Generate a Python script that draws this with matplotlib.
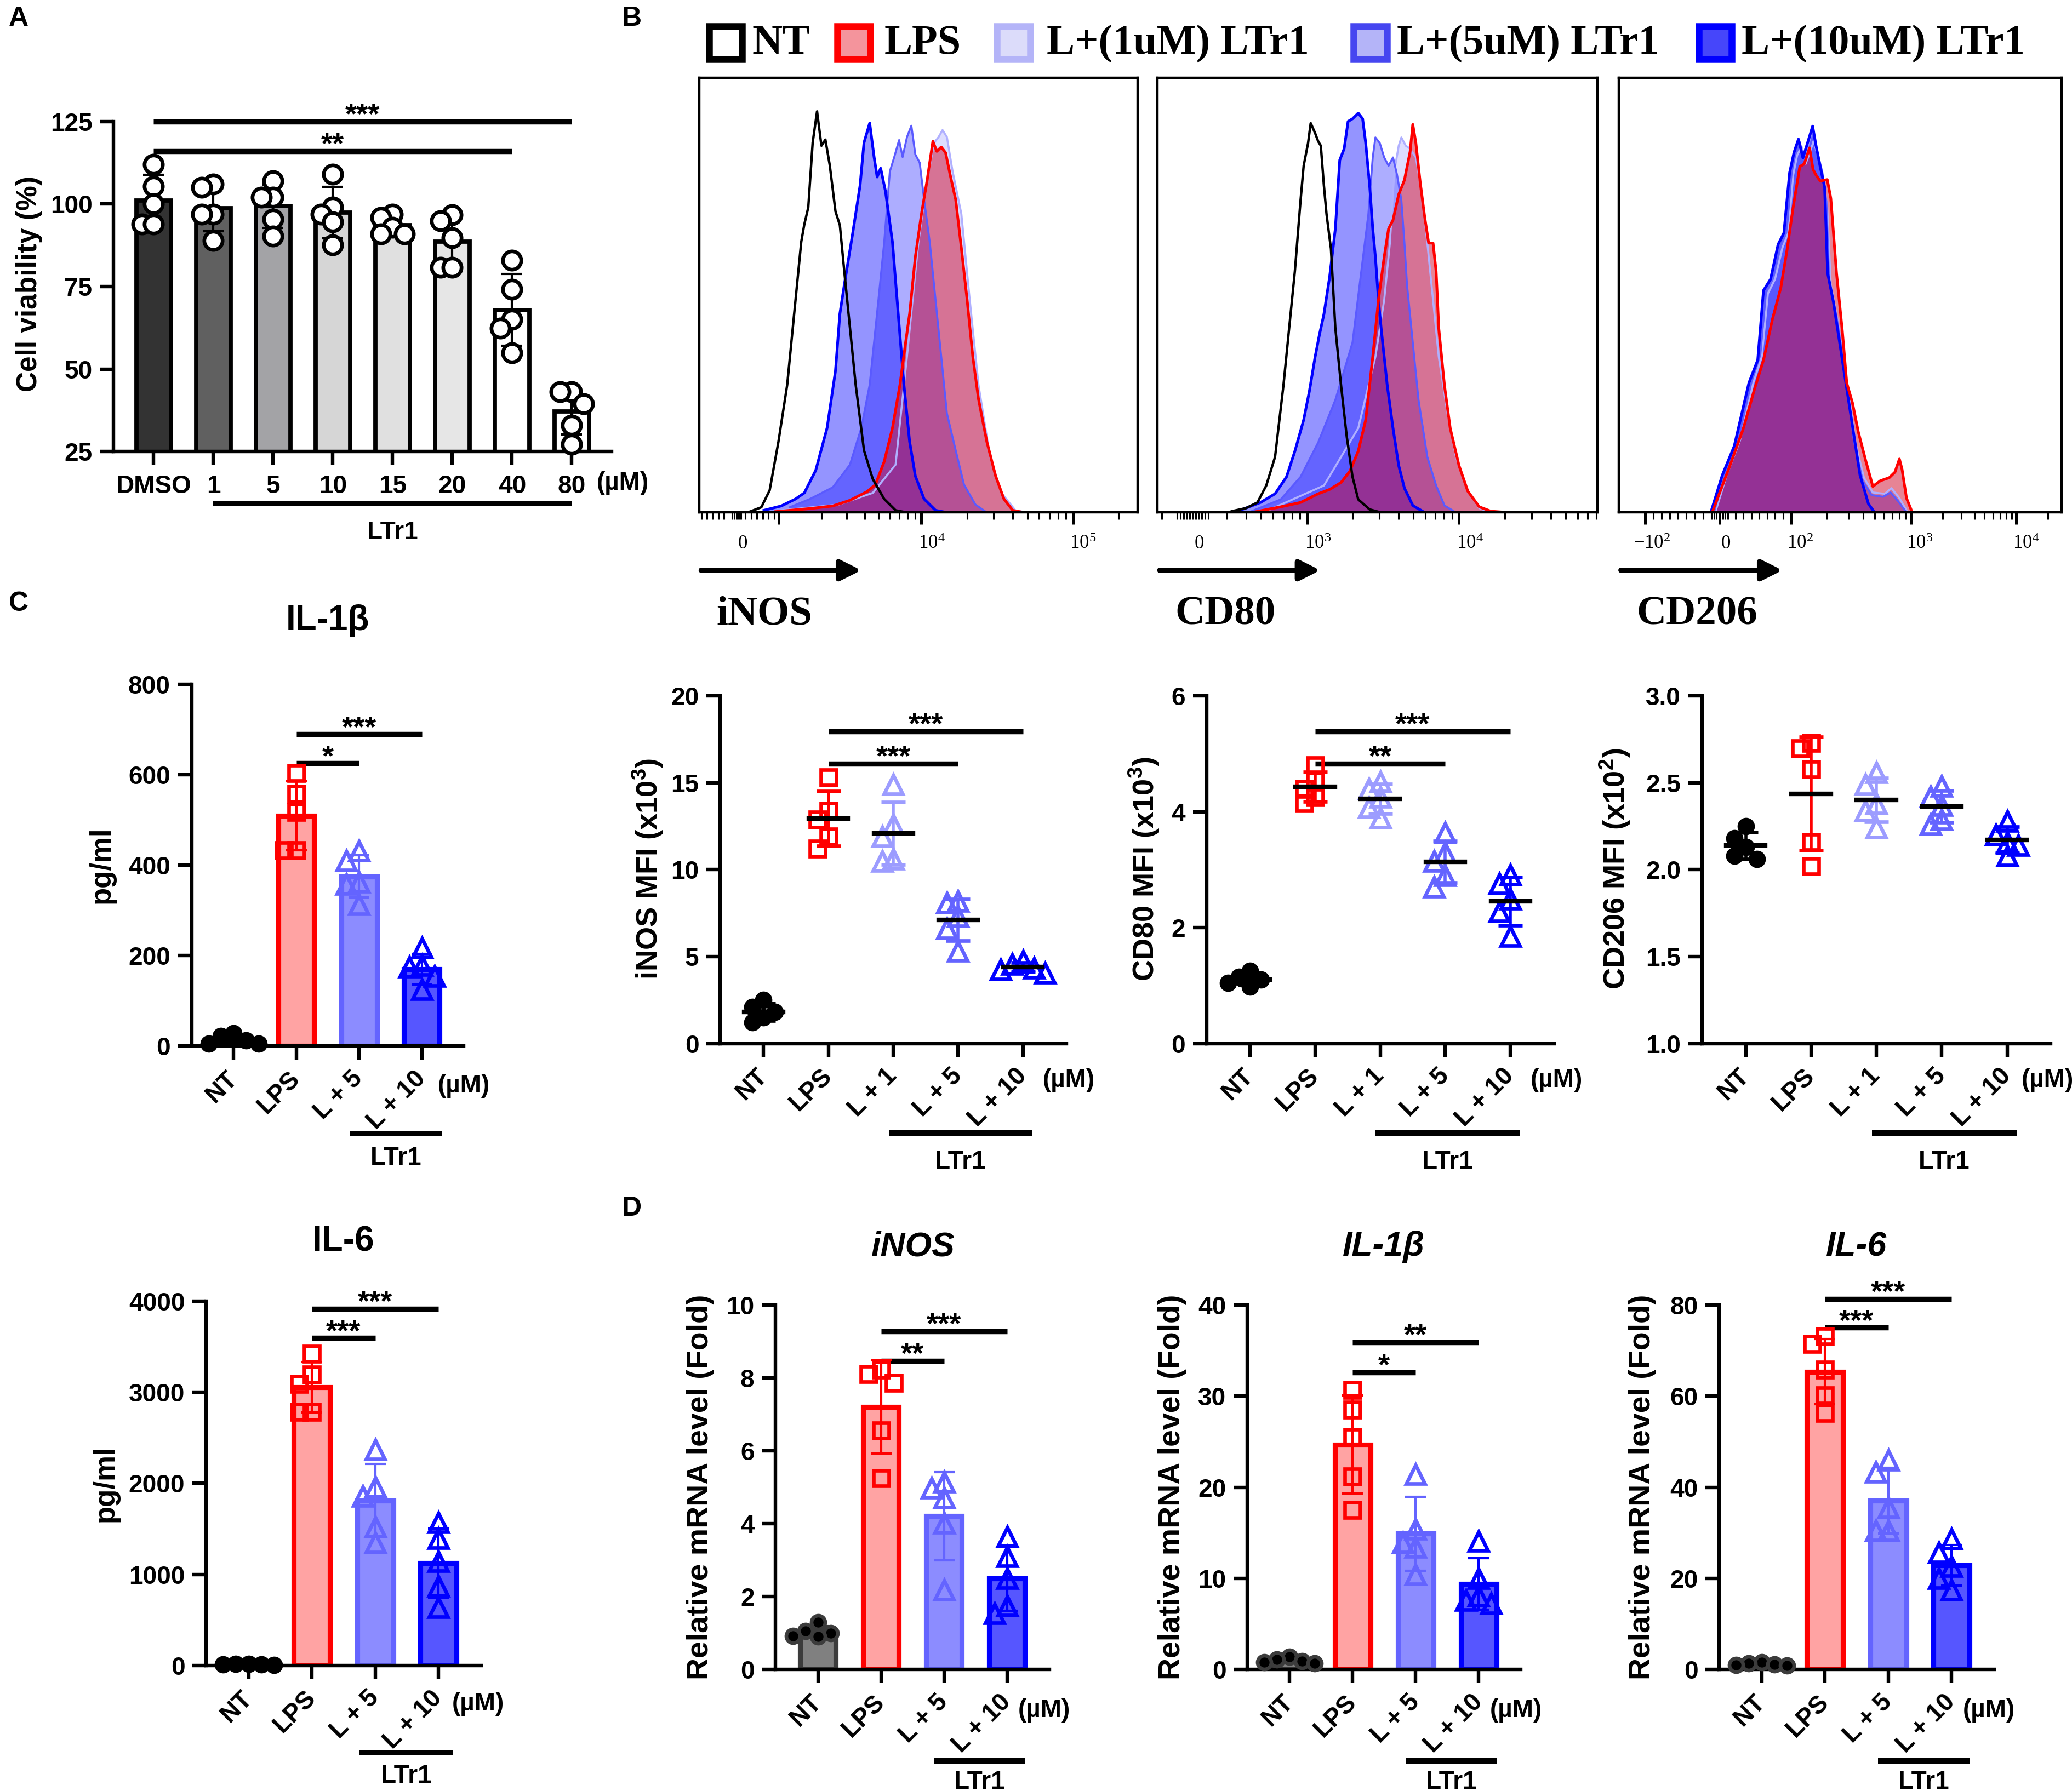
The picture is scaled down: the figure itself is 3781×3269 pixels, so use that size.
import numpy as np
import matplotlib
matplotlib.use('Agg')
import matplotlib.pyplot as plt
from matplotlib.patches import Rectangle
from matplotlib.transforms import blended_transform_factory

plt.rcParams['font.family'] = ['Liberation Sans', 'DejaVu Sans']
plt.rcParams['font.weight'] = 'bold'
plt.rcParams['mathtext.default'] = 'regular'

W, H = 1568.0, 1356.0   # layout units (reference shrunk to 1568 wide)

# ---------------- A: cell viability ----------------
via_labels = ['DMSO', '1', '5', '10', '15', '20', '40', '80']
via_fill = ['#333333', '#606060', '#a3a3a6', '#d6d6d6', '#e0e0e0', '#e6e6e6', '#ffffff', '#ffffff']
via_points = [
    [112, 105.4, 100, 94, 94],
    [106, 105, 97, 97, 89],
    [107, 102, 102, 95.5, 90.3],
    [109, 99, 97, 94.6, 87.6],
    [97, 96, 93, 91, 91],
    [96.8, 95, 89.8, 80.9, 80.9],
    [83, 74.2, 65, 62.4, 55],
    [43.2, 43.2, 39.5, 33, 27.3],
]

# ---------------- C: ELISA ----------------
elisa_groups = ['NT', 'LPS', 'L + 5', 'L + 10']
il1b_pg = [[28, 22, 12, 5, 5], [604, 558, 518, 433, 433],
           [432, 410, 362, 358, 313], [217, 179, 175, 154, 125]]
il6_pg = [[20, 10, 5, 15, 10], [3420, 3193, 3088, 2782, 2782],
          [2370, 1962, 1857, 1521, 1345], [1571, 1395, 1143, 870, 639]]

# ---------------- C: MFI ----------------
mfi_groups = ['NT', 'LPS', 'L + 1', 'L + 5', 'L + 10']
inos_mfi = [[2.5, 2.1, 1.8, 1.5, 1.2], [15.3, 13.4, 12.9, 11.9, 11.2],
            [14.9, 12.6, 11.9, 10.6, 10.5], [8.2, 8.1, 7.3, 6.6, 5.3],
            [4.76, 4.55, 4.35, 4.25, 4.05]]
cd80_mfi = [[1.25, 1.15, 1.1, 1.05, 0.98], [4.8, 4.55, 4.4, 4.25, 4.15],
            [4.52, 4.40, 4.25, 4.07, 3.89], [3.64, 3.3, 3.15, 2.9, 2.7],
            [2.91, 2.76, 2.49, 2.28, 1.85]]
cd206_mfi = [[2.25, 2.18, 2.13, 2.08, 2.06], [2.73, 2.70, 2.58, 2.16, 2.02],
             [2.56, 2.49, 2.38, 2.34, 2.24], [2.48, 2.42, 2.37, 2.29, 2.26],
             [2.28, 2.20, 2.16, 2.14, 2.08]]

# ---------------- D: qPCR ----------------
qpcr_groups = ['NT', 'LPS', 'L + 5', 'L + 10']
inos_fold = [[1.3, 1.05, 1.0, 0.92, 0.9], [8.22, 8.11, 7.87, 6.55, 5.25],
             [5.15, 4.98, 4.71, 4.01, 2.18], [3.64, 3.10, 2.50, 1.75, 1.53]]
il1b_fold = [[1.4, 1.1, 0.9, 0.8, 0.7], [30.7, 28.5, 25.5, 21.2, 17.5],
             [21.4, 15.4, 13.9, 13.4, 10.4], [14.1, 10.0, 8.06, 7.6, 7.2]]
il6_fold = [[1.6, 1.3, 1.1, 1.0, 0.9], [73.1, 71.4, 65.8, 60.2, 56.3],
            [45.9, 43.3, 35.5, 30.4, 30.4], [28.6, 25.6, 22.6, 20.0, 17.4]]

# ---------------- B: flow histograms (x: % of axis width, y: % of box height) ----------------
inos_nt_x = [11.6, 14.2, 16.1, 18.1, 20.1, 21.7, 23.3, 24.0, 24.9, 25.9, 26.9, 27.9, 28.8, 29.8,
             31.1, 32.1, 33.1, 34.4, 35.7, 37.6, 39.6, 42.2, 44.8, 47.4]
inos_nt_y = [0.2, 1.2, 5.1, 16.3, 29.4, 45.9, 62.3, 66.3, 70.2, 85.1, 92.3, 84.4, 85.8, 79.9,
             69.3, 66.1, 55.6, 42.5, 29.4, 14.3, 7.7, 3.1, 0.5, 0]
inos_10_x = [14.8, 18.75, 22.0, 24.0, 26.6, 29.2, 31.1, 32.1, 33.1, 35.0, 36.7, 37.6, 38.9, 39.9,
             40.6, 41.4, 42.5, 44.1, 45.4, 46.7, 48.0, 49.3, 51.3, 53.9, 56.5]
inos_10_y = [0.5, 1.5, 3.1, 4.5, 9.7, 19.5, 32.6, 45.7, 52.3, 64.1, 75.2, 85.1, 89.6, 81.8,
             77.2, 79.2, 73.9, 62.1, 45.7, 29.4, 16.3, 8.4, 3.1, 0.5, 0]
inos_5_x = [20.7, 25.3, 30.5, 34.4, 37.0, 38.9, 40.9, 42.2, 43.5, 44.5, 45.6, 46.4, 47.4, 48.4,
            49.3, 50.3, 51.3, 52.6, 53.9, 55.2, 56.5, 58.5, 60.4, 63.0, 65.6]
inos_5_y = [1.2, 3.1, 5.8, 11.0, 19.5, 29.4, 49.0, 62.1, 78.5, 81.8, 85.7, 81.8, 86.4, 89.0,
            82.4, 80.5, 72.0, 62.1, 49.0, 35.9, 22.8, 14.3, 6.4, 1.8, 0]
inos_1_x = [18.75, 31.8, 39.6, 44.8, 47.4, 50.0, 52.0, 53.6, 54.6, 55.5, 56.5, 57.8, 59.8, 61.7,
            63.7, 66.3, 68.9, 72.1, 74.7]
inos_1_y = [0.5, 1.8, 4.5, 11.0, 35.9, 62.1, 76.5, 85.1, 86.4, 88.0, 86.4, 78.5, 68.7, 49.0,
            29.4, 13.0, 4.5, 0.5, 0]
inos_lps_x = [17.4, 25.3, 30.5, 34.4, 38.3, 40.2, 42.2, 44.1, 45.8, 47.1, 48.0, 49.3, 50.7, 52.0,
              53.3, 54.2, 55.2, 56.2, 57.2, 58.5, 59.8, 61.1, 62.4, 63.7, 65.6, 67.6, 69.5, 71.5, 74.1]
inos_lps_y = [0.2, 0.9, 1.5, 2.8, 4.8, 6.4, 11.7, 19.5, 29.4, 39.2, 45.7, 58.8, 68.7, 76.5,
              85.4, 83.1, 84.1, 82.8, 77.9, 72.0, 60.8, 49.0, 35.9, 26.1, 16.3, 8.4, 3.1, 0.5, 0]

cd80_nt_x = [16.9, 20.1, 22.7, 24.7, 26.7, 28.6, 29.9, 31.2, 32.5, 33.2, 34.2, 34.8, 35.8, 36.5,
             37.1, 37.8, 38.4, 39.4, 40.4, 41.7, 43.0, 44.3, 45.6, 48.2, 50.8]
cd80_nt_y = [0.3, 1.0, 2.3, 6.2, 12.8, 29.2, 42.4, 55.5, 71.9, 79.8, 85.0, 89.6, 87.3, 85.4,
             84.4, 75.2, 68.6, 60.7, 42.4, 29.2, 17.4, 8.2, 3.0, 0.7, 0]
cd80_10_x = [18.2, 23.4, 26.7, 29.3, 31.2, 33.2, 34.5, 35.8, 36.8, 37.8, 39.1, 40.4, 41.4, 42.4,
             43.3, 44.3, 45.6, 46.6, 47.3, 48.2, 48.9, 49.5, 50.2, 50.8, 52.2, 53.5, 54.8, 56.1,
             58.0, 60.7]
cd80_10_y = [0.3, 2.3, 4.3, 8.2, 14.1, 21.3, 27.9, 35.8, 41.0, 45.6, 54.2, 65.3, 81.1, 83.7,
             90.0, 90.6, 91.9, 90.6, 85.0, 75.2, 65.3, 58.8, 48.9, 42.4, 29.2, 19.4, 10.8, 5.6,
             1.6, 0]
cd80_5_x = [21.4, 28.0, 32.5, 36.5, 40.4, 44.3, 46.3, 47.9, 48.9, 49.5, 50.5, 51.5, 52.5, 53.5,
            54.4, 55.4, 56.1, 56.7, 58.0, 59.3, 61.3, 63.3, 65.2, 67.8]
cd80_5_y = [0.3, 3.0, 8.2, 16.1, 25.9, 39.1, 55.5, 68.6, 81.7, 86.3, 85.0, 81.7, 79.8, 81.7,
            77.8, 71.9, 62.0, 52.2, 39.1, 25.9, 12.8, 6.2, 1.6, 0]
cd80_1_x = [24.7, 37.8, 45.6, 49.5, 51.5, 52.8, 53.8, 54.8, 55.4, 56.4, 57.4, 58.7, 60.0, 61.3,
            62.6, 63.9, 65.9, 67.8, 70.5, 73.1, 75.7]
cd80_1_y = [0.3, 6.2, 19.4, 35.8, 48.9, 62.0, 78.5, 84.4, 86.3, 84.4, 83.7, 81.7, 73.9, 62.0,
            48.9, 35.8, 22.7, 12.8, 4.9, 1.0, 0]
cd80_lps_x = [21.4, 28.0, 32.5, 36.5, 39.1, 41.7, 43.7, 45.6, 47.3, 48.9, 50.2, 51.5, 52.5, 53.5,
              54.8, 56.1, 57.4, 58.0, 58.7, 59.7, 60.7, 61.6, 62.6, 63.3, 63.9, 65.2, 66.5, 68.5,
              70.5, 73.1, 75.7, 79.6]
cd80_lps_y = [0, 1.3, 2.3, 4.3, 5.3, 6.9, 9.5, 14.1, 21.3, 35.8, 48.9, 58.8, 65.3, 67.3,
              73.2, 76.5, 83.1, 89.3, 85.0, 75.8, 68.0, 62.0, 62.0, 55.5, 42.4, 29.2, 19.4, 10.8,
              4.9, 1.3, 0.3, 0]

cd206_10_x = [20.8, 23.4, 26.1, 29.4, 31.4, 32.7, 34.3, 36.0, 37.3, 38.6, 39.6, 40.6, 41.6, 42.6,
              43.8, 44.6, 45.5, 46.5, 47.2, 48.5, 50.5, 52.5, 54.5, 56.4, 57.8]
cd206_10_y = [0, 8.6, 15.3, 29.8, 35.1, 51.1, 53.7, 61.7, 64.3, 78.2, 82.9, 85.9, 81.6, 84.9,
              88.9, 84.2, 79.6, 74.9, 55.0, 48.4, 35.1, 21.9, 8.6, 2.0, 0]
cd206_5_x = [21.5, 24.1, 26.7, 30.0, 32.0, 33.3, 35.0, 36.6, 38.0, 39.1, 40.1, 40.9, 41.9, 43.0,
             43.9, 44.9, 46.0, 46.9, 47.5, 49.2, 51.2, 53.1, 55.1, 57.1, 59.7, 61.4, 63.0, 65.0]
cd206_5_y = [0, 9.3, 15.9, 30.5, 36.5, 51.7, 55.0, 62.3, 65.6, 78.9, 83.6, 85.2, 80.9, 83.6,
             86.9, 82.9, 78.2, 71.6, 53.7, 45.1, 31.8, 16.6, 7.3, 4.0, 3.6, 4.6, 2.7, 0]
cd206_1_x = [21.8, 24.4, 27.4, 30.4, 32.3, 33.7, 35.3, 37.0, 38.3, 39.4, 40.3, 41.3, 42.2, 43.2,
             44.0, 45.1, 46.2, 47.1, 47.9, 49.5, 51.5, 53.5, 55.4, 57.4, 60.1, 61.6, 63.4, 65.3]
cd206_1_y = [0, 8.6, 16.6, 29.8, 35.8, 50.4, 53.7, 61.0, 64.3, 77.6, 82.2, 84.2, 80.2, 82.9,
             85.5, 81.6, 76.9, 70.3, 52.4, 43.8, 30.5, 15.9, 8.0, 4.6, 4.3, 5.6, 3.3, 0]
cd206_lps_x = [21.1, 24.8, 28.1, 30.7, 32.7, 34.7, 36.6, 38.0, 39.3, 40.9, 41.9, 43.1, 43.9, 44.6,
               45.5, 47.1, 47.9, 49.2, 50.5, 51.5, 52.8, 54.1, 55.8, 57.4, 59.1, 61.1, 62.4, 63.4,
               64.0, 65.0, 66.3]
cd206_lps_y = [0, 9.9, 19.2, 28.5, 35.1, 44.4, 51.7, 60.3, 69.6, 79.6, 80.2, 83.9, 78.9, 77.6,
               76.3, 76.6, 72.3, 55.0, 41.8, 29.8, 25.2, 18.6, 11.9, 6.0, 7.3, 8.0, 9.3, 12.3,
               9.9, 3.3, 0]

legend_names = ['NT', 'LPS', 'L+(1uM) LTr1', 'L+(5uM) LTr1', 'L+(10uM) LTr1']

# ---------------- styles ----------------
RED, BLUE5, BLUE1, BLUE10 = '#ff0000', '#6464ff', '#9c9cff', '#0000ff'
grp_style = {
    'NT': dict(fill='#000000', edge='#000000', marker='o', mfc='#000000', ms=9),
    'LPS': dict(fill='#ffa3a3', edge=RED, marker='s', mfc='none', ms=10),
    'L + 1': dict(fill='#c0c0ff', edge=BLUE1, marker='^', mfc='none', ms=12),
    'L + 5': dict(fill='#8c8cff', edge=BLUE5, marker='^', mfc='none', ms=12),
    'L + 10': dict(fill='#5656ff', edge=BLUE10, marker='^', mfc='none', ms=12),
}
qpcr_style = dict(grp_style)
qpcr_style['NT'] = dict(fill='#808080', edge='#3c3c3c', marker='o', mfc='#000000', ms=9)

fig = plt.figure(figsize=(3781 / 200, 3269 / 200), dpi=200)
ov = fig.add_axes([0, 0, 1, 1], zorder=20)
ov.set_xlim(0, W)
ov.set_ylim(H, 0)
ov.axis('off')


def new_axes(l, r, t, b):
    return fig.add_axes([l / W, 1 - b / H, (r - l) / W, (b - t) / H])


def swarm(vals, span, step=0.2):
    offs = np.zeros(len(vals))
    placed = []
    for i in np.argsort(vals)[::-1]:
        for c in [0, -step, step, -2 * step, 2 * step]:
            if all(abs(vals[i] - pv) >= span or abs(c - po) >= 0.9 * step for pv, po in placed):
                break
        offs[i] = c
        placed.append((vals[i], c))
    return offs


def frame(ax, labels, ylim, yticks, rot=True):
    n = len(labels)
    ax.set_xlim(-0.67, n - 1 + 0.67)
    ax.set_ylim(*ylim)
    ax.set_yticks(yticks)
    ax.set_xticks(range(n))
    if rot:
        ax.set_xticklabels(labels, rotation=45, ha='right', va='center', rotation_mode='anchor')
    else:
        ax.set_xticklabels(labels)
    ax.spines[['top', 'right']].set_visible(False)
    ax.spines[['left', 'bottom']].set_linewidth(2.3)
    ax.tick_params(width=2.3, length=9, labelsize=16.5, pad=5)
    ax.tick_params(axis='x', pad=10 if rot else 6)


def bars(ax, groups, data, styles, lw=3.0, width=0.57):
    lo, hi = ax.get_ylim()
    for i, (g, vals) in enumerate(zip(groups, data)):
        st = styles[g]
        vals = np.asarray(vals, float)
        m, sd = vals.mean(), vals.std(ddof=1)
        ax.bar(i, m, width=width, color=st['fill'], edgecolor=st['edge'], linewidth=lw, zorder=2)
        ax.errorbar(i, m, yerr=sd, fmt='none', ecolor=st['edge'], elinewidth=1.5,
                    capsize=7, capthick=1.5, zorder=3)
        offs = swarm(vals, 0.04 * (hi - lo))
        ax.plot(i + offs, vals, ls='none', marker=st['marker'], ms=st['ms'], mfc=st['mfc'],
                mec=st['edge'], mew=2.4, zorder=4, clip_on=False)


def scatter(ax, groups, data, styles):
    lo, hi = ax.get_ylim()
    for i, (g, vals) in enumerate(zip(groups, data)):
        st = styles[g]
        vals = np.asarray(vals, float)
        m, sd = vals.mean(), vals.std(ddof=1)
        offs = swarm(vals, 0.04 * (hi - lo), 0.17)
        ax.plot(i + offs, vals, ls='none', marker=st['marker'], ms=st['ms'], mfc=st['mfc'],
                mec=st['edge'], mew=2.4, zorder=3, clip_on=False)
        ax.errorbar(i, m, yerr=sd, fmt='none', ecolor=st['edge'], elinewidth=2,
                    capsize=8, capthick=2.4, zorder=4)
        ax.plot([i - 0.3, i + 0.3], [m, m], color='k', lw=3, zorder=5)


def sig(ax, x0, x1, y, stars):
    ax.plot([x0, x1], [y, y], color='k', lw=3.4, clip_on=False, solid_capstyle='butt')
    ax.annotate(stars, ((x0 + x1) / 2, y), xytext=(0, -1.5), textcoords='offset points',
                ha='center', va='baseline', fontsize=19.5, annotation_clip=False)


def ltr1(ax, x0, x1, yline, ytext):
    tr = blended_transform_factory(ax.transData, ax.transAxes)
    ax.plot([x0, x1], [yline, yline], color='k', lw=3.6, transform=tr, clip_on=False,
            solid_capstyle='butt')
    ax.text((x0 + x1) / 2, ytext, 'LTr1', transform=tr, ha='center', va='center', fontsize=16.5)


def unit(ax, x, y):
    tr = blended_transform_factory(ax.transData, ax.transAxes)
    ax.text(x, y, '(µM)', transform=tr, ha='center', va='center', fontsize=16.5)


# ================= A =================
axA = new_axes(86, 463, 92, 342)
frame(axA, via_labels, (25, 125), [25, 50, 75, 100, 125], rot=False)
a_style = {lab: dict(fill=c, edge='k', marker='o', mfc='white', ms=12)
           for lab, c in zip(via_labels, via_fill)}
bars(axA, via_labels, via_points, a_style, lw=2.8, width=0.58)
sig(axA, 0, 7, 125, '***')
sig(axA, 0, 6, 116, '**')
unit(axA, 7.85, -0.096)
ltr1(axA, 1, 7, -0.156, -0.244)

# ================= B: flow =================
SERIF = ['Liberation Serif', 'DejaVu Serif']


def flow(ax, curves, majors, minors, ticklabels, marker):
    for xs, ys, fc, fa, ec, elw in curves:
        if fc is not None:
            ax.fill_between(xs, 0, ys, color=fc, alpha=fa, lw=0)
        ax.plot(xs, ys, color=ec, lw=elw)
    ax.set_xlim(0, 100)
    ax.set_ylim(0, 100)
    ax.set_yticks([])
    ax.set_xticks(majors)
    ax.set_xticks(minors, minor=True)
    ax.set_xticklabels([])
    for s in ax.spines.values():
        s.set_linewidth(1.6)
    ax.tick_params(axis='x', which='major', length=8, width=1.8)
    ax.tick_params(axis='x', which='minor', length=4.5, width=1.1)
    tr = blended_transform_factory(ax.transData, ax.transAxes)
    for pos, txt in ticklabels:
        ax.text(pos, -0.072, txt, transform=tr, ha='center', va='center', fontsize=12.5,
                family=SERIF, weight='normal')
    ax.annotate('', xy=(0.37, -0.133), xytext=(0.005, -0.133), xycoords='axes fraction',
                arrowprops=dict(arrowstyle='-|>', lw=3.5, color='k', mutation_scale=28,
                                shrinkA=0, shrinkB=0), annotation_clip=False)
    ax.text(0.04, -0.235, marker, transform=ax.transAxes, ha='left', va='center',
            fontsize=27, family=SERIF, weight='bold')


def log_minor(a, b, stop=None):
    pos = [a + (b - a) * np.log10(k) for k in range(2, 10)]
    return [p for p in pos if stop is None or p < stop]


F1 = ('#aaaaff', 0.4, '#b0b0ff', 1.3)
F5 = ('#3c3cff', 0.42, '#5a5aff', 1.3)
F10 = ('#0000ff', 0.42, '#0000ff', 1.8)
FL = ('#d10b2d', 0.5, '#ff0000', 1.8)

fl1 = new_axes(529, 861, 59, 388)
flow(fl1,
     [(inos_1_x, inos_1_y) + F1, (inos_5_x, inos_5_y) + F5, (inos_10_x, inos_10_y) + F10,
      (inos_lps_x, inos_lps_y) + FL, (inos_nt_x, inos_nt_y, None, 0, 'k', 1.6)],
     [18.1, 50.7, 85.2],
     [0.5, 1.8, 3.1, 4.4, 5.7, 7.5, 8.0, 8.5, 9.0, 9.5, 10.6, 11.9, 13.2, 14.5, 15.8, 17.1]
     + log_minor(18.1, 50.7) + log_minor(50.7, 85.2) + log_minor(85.2, 119.7, 100),
     [(10, '0'), (53, r'$\mathregular{10^{4}}$'), (87.5, r'$\mathregular{10^{5}}$')], 'iNOS')

fl2 = new_axes(876, 1209, 59, 388)
flow(fl2,
     [(cd80_1_x, cd80_1_y) + F1, (cd80_5_x, cd80_5_y) + F5, (cd80_10_x, cd80_10_y) + F10,
      (cd80_lps_x, cd80_lps_y) + FL, (cd80_nt_x, cd80_nt_y, None, 0, 'k', 1.6)],
     [33.9, 68.5],
     [1.0, 4.5, 5.2, 5.9, 6.6, 7.3, 8.0, 8.7, 9.4, 10.1, 10.8, 11.5]
     + log_minor(-0.7, 33.9)[1:] + log_minor(33.9, 68.5) + log_minor(68.5, 103.1, 100),
     [(9.5, '0'), (36.5, r'$\mathregular{10^{3}}$'), (71, r'$\mathregular{10^{4}}$')], 'CD80')

fl3 = new_axes(1225, 1560, 59, 388)
flow(fl3,
     [(cd206_1_x, cd206_1_y) + F1, (cd206_5_x, cd206_5_y) + F5,
      (cd206_10_x, cd206_10_y) + F10, (cd206_lps_x, cd206_lps_y) + FL],
     [5.9, 22.8, 38.9, 66.0, 89.8],
     list(np.linspace(5.9, 22.8, 10)[1:-1]) + [21.5, 22.0, 23.5, 24.0]
     + list(np.linspace(22.8, 38.9, 10)[1:-1]) + log_minor(38.9, 66.0) + log_minor(66.0, 89.8)
     + log_minor(89.8, 113.6, 100),
     [(7.5, r'$\mathregular{-10^{2}}$'), (24.2, '0'), (41, r'$\mathregular{10^{2}}$'),
      (68, r'$\mathregular{10^{3}}$'), (92, r'$\mathregular{10^{4}}$')], 'CD206')

# legend for B
leg_fill = ['#ffffff', '#f4949c', '#dcdcfa', '#b4b4f8', '#4646fa']
leg_edge = ['#000000', '#ff0000', '#b4b4f8', '#4646f0', '#0000ff']
leg_box_x = [534, 631, 752, 1022, 1283]
leg_txt_x = [569, 669, 792, 1057, 1318]
for name, fc, ec, bx, tx in zip(legend_names, leg_fill, leg_edge, leg_box_x, leg_txt_x):
    ov.add_patch(Rectangle((bx + 2.5, 20), 25, 25, facecolor=fc, edgecolor=ec, lw=4.5))
    ov.text(tx, 33, name, ha='left', va='center', fontsize=27.5, family=SERIF, weight='bold')

# ================= C: ELISA =================
axC1 = new_axes(145, 351, 518, 792)
frame(axC1, elisa_groups, (0, 800), [0, 200, 400, 600, 800])
bars(axC1, elisa_groups, il1b_pg, grp_style, lw=3.3)
sig(axC1, 1, 2, 625, '*')
sig(axC1, 1, 3, 689, '***')
unit(axC1, 3.67, -0.11)
ltr1(axC1, 1.85, 3.33, -0.241, -0.31)

axC2 = new_axes(156, 364, 985, 1261)
frame(axC2, elisa_groups, (0, 4000), [0, 1000, 2000, 3000, 4000])
bars(axC2, elisa_groups, il6_pg, grp_style, lw=3.3)
sig(axC2, 1, 2, 3592, '***')
sig(axC2, 1, 3, 3916, '***')
unit(axC2, 3.62, -0.105)
ltr1(axC2, 1.75, 3.23, -0.239, -0.304)

# ================= C: MFI =================
for (l, r), data, ylim, yt, sigs, ux in [
        ((545, 807), inos_mfi, (0, 20), [0, 5, 10, 15, 20],
         [(3, 16.1, '***'), (4, 17.96, '***')], 4.71),
        ((913, 1176), cd80_mfi, (0, 6), [0, 2, 4, 6],
         [(3, 4.83, '**'), (4, 5.39, '***')], 4.71),
        ((1288, 1552), cd206_mfi, (1.0, 3.0), [1.0, 1.5, 2.0, 2.5, 3.0], [], 4.62)]:
    ax = new_axes(l, r, 527, 790)
    frame(ax, mfi_groups, ylim, yt)
    ax.set_yticklabels(['%g' % v if ylim[1] != 3.0 else '%.1f' % v for v in yt])
    scatter(ax, mfi_groups, data, grp_style)
    for x1, y, st in sigs:
        sig(ax, 1, x1, y, st)
    unit(ax, ux, -0.106)
    ltr1(ax, 1.93, 4.15, -0.258, -0.342)

# ================= D: qPCR =================
for (l, r), data, ylim, yt, sigs in [
        ((587, 794), inos_fold, (0, 10), [0, 2, 4, 6, 8, 10], [(2, 8.47, '**'), (3, 9.28, '***')]),
        ((944, 1151), il1b_fold, (0, 40), [0, 10, 20, 30, 40], [(2, 32.6, '*'), (3, 35.9, '**')]),
        ((1301, 1509), il6_fold, (0, 80), [0, 20, 40, 60, 80], [(2, 75.0, '***'), (3, 81.3, '***')])]:
    ax = new_axes(l, r, 988, 1264)
    frame(ax, qpcr_groups, ylim, yt)
    bars(ax, qpcr_groups, data, qpcr_style, lw=3.3)
    for x1, y, st in sigs:
        sig(ax, 1, x1, y, st)
    unit(ax, 3.59, -0.112)
    ltr1(ax, 1.84, 3.29, -0.25, -0.31)

# ================= free text =================
for letter, x, y in [('A', 14, 14), ('B', 478, 14), ('C', 14, 457), ('D', 478, 915)]:
    ov.text(x, y, letter, ha='center', va='center', fontsize=18)

for txt, x, y, fs in [('Cell viability (%)', 22, 215, 18.5), ('pg/ml', 77, 655, 19),
                      ('pg/ml', 80, 1123, 19),
                      ('iNOS MFI (x10$^{3}$)', 490, 658, 19.5),
                      ('CD80 MFI (x10$^{3}$)', 866, 658, 19.5),
                      ('CD206 MFI (x10$^{2}$)', 1222, 658, 19.5),
                      ('Relative mRNA level (Fold)', 530, 1126, 20),
                      ('Relative mRNA level (Fold)', 887, 1126, 20),
                      ('Relative mRNA level (Fold)', 1243, 1126, 20)]:
    ov.text(x, y, txt, rotation=90, ha='center', va='center', fontsize=fs)

ov.text(248, 470, 'IL-1β', ha='center', va='center', fontsize=23)
ov.text(260, 940, 'IL-6', ha='center', va='center', fontsize=23)
for txt, x in [('iNOS', 691), ('IL-1β', 1047), ('IL-6', 1405)]:
    ov.text(x, 944, txt, ha='center', va='center', fontsize=22.5, style='italic')

fig.savefig('out.png', dpi=200)
